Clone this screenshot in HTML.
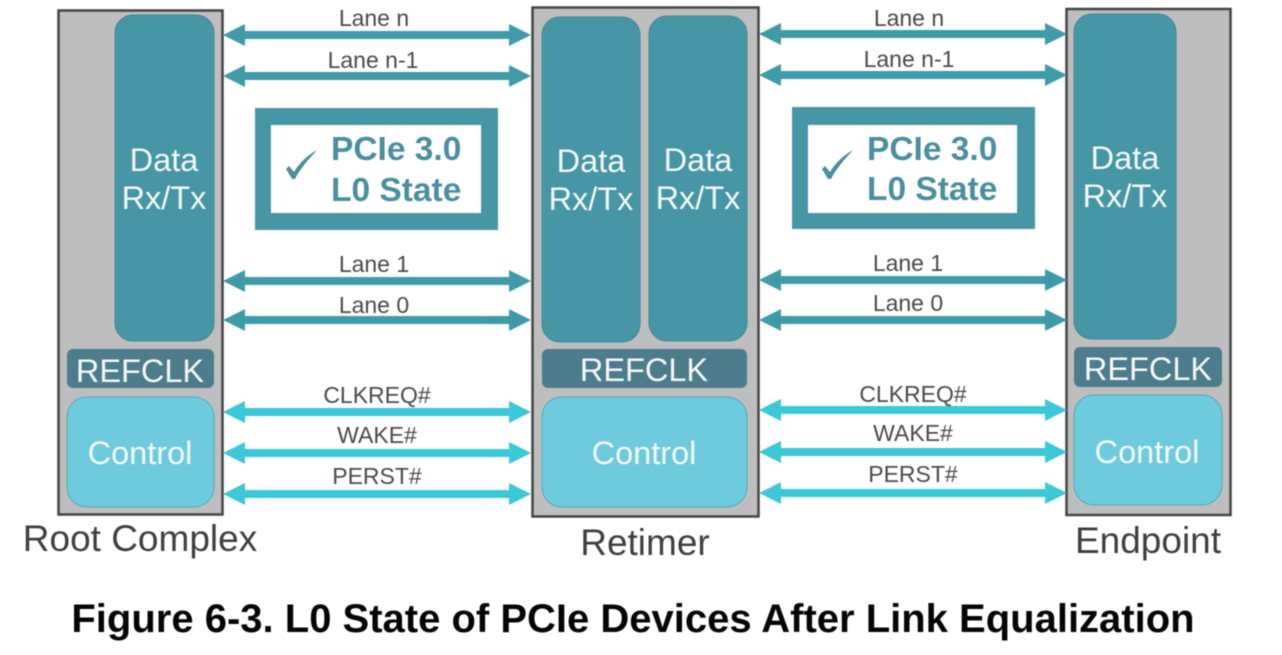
<!DOCTYPE html>
<html><head><meta charset="utf-8"><style>
html,body{margin:0;padding:0;background:#fff;width:1282px;height:655px;overflow:hidden}
svg{display:block;filter:blur(.55px)}
text{font-family:"Liberation Sans",sans-serif}
</style></head><body>
<svg width="1282" height="655" viewBox="0 0 1282 655" xmlns="http://www.w3.org/2000/svg">
<defs>
<g id="lan"><path d="M0 0 L22 -11 L22 -4 L286 -4 L286 -11 L308 0 L286 11 L286 4 L22 4 L22 11 Z" fill="#3f9ba8"/></g>
<g id="ctl"><path d="M0 0 L22 -11 L22 -4 L286 -4 L286 -11 L308 0 L286 11 L286 4 L22 4 L22 11 Z" fill="#3cc8d6"/></g>
</defs>
<!-- device boxes -->
<rect x="58.500" y="10.500" width="164" height="504" fill="#bebebe" stroke="#454545" stroke-width="2.500"/>
<rect x="532.500" y="7.500" width="226" height="509" fill="#bebebe" stroke="#454545" stroke-width="2.500"/>
<rect x="1066.500" y="9" width="164" height="506" fill="#bebebe" stroke="#454545" stroke-width="2.500"/>
<!-- data blocks -->
<rect x="115" y="15" width="99" height="326" rx="18" fill="#4796a5" stroke="#3e8795"/>
<rect x="542" y="17" width="98" height="325" rx="18" fill="#4796a5" stroke="#3e8795"/>
<rect x="649" y="16" width="98" height="325" rx="18" fill="#4796a5" stroke="#3e8795"/>
<rect x="1074" y="14" width="102" height="325" rx="18" fill="#4796a5" stroke="#3e8795"/>
<!-- refclk -->
<rect x="67" y="349" width="147" height="39" rx="6" fill="#4d7d8d"/>
<rect x="542" y="349" width="205" height="39" rx="6" fill="#4d7d8d"/>
<rect x="1074" y="347" width="148" height="40" rx="6" fill="#4d7d8d"/>
<!-- control -->
<rect x="67" y="397" width="147" height="110" rx="20" fill="#6ecbdd" stroke="#52a9b8"/>
<rect x="542" y="397" width="205" height="110" rx="20" fill="#6ecbdd" stroke="#52a9b8"/>
<rect x="1074" y="395" width="148" height="110" rx="20" fill="#6ecbdd" stroke="#52a9b8"/>
<!-- block labels -->
<g fill="#f4f8f9" font-size="32.500" text-anchor="middle">
<text x="164" y="171">Data</text><text x="164" y="209">Rx/Tx</text>
<text x="591" y="172">Data</text><text x="591" y="210">Rx/Tx</text>
<text x="698" y="171">Data</text><text x="698" y="209">Rx/Tx</text>
<text x="1125" y="169">Data</text><text x="1125" y="207">Rx/Tx</text>
<text x="140" y="382">REFCLK</text><text x="644" y="381">REFCLK</text><text x="1148" y="380">REFCLK</text>
<text x="140" y="464">Control</text><text x="644" y="464">Control</text><text x="1147" y="463">Control</text>
</g>
<!-- arrows left -->
<use href="#lan" x="223" y="35"/><use href="#lan" x="223" y="76"/><use href="#lan" x="223" y="281"/><use href="#lan" x="223" y="320"/>
<use href="#ctl" x="223" y="412"/><use href="#ctl" x="223" y="453"/><use href="#ctl" x="223" y="494"/>
<!-- arrows right -->
<use href="#lan" x="759" y="34"/><use href="#lan" x="759" y="75"/><use href="#lan" x="759" y="280"/><use href="#lan" x="759" y="320"/>
<use href="#ctl" x="759" y="410"/><use href="#ctl" x="759" y="452"/><use href="#ctl" x="759" y="493"/>
<!-- arrow labels -->
<g fill="#4a4a4a" font-size="23" text-anchor="middle">
<text x="374" y="26">Lane n</text><text x="373" y="68">Lane n-1</text><text x="374" y="272">Lane 1</text><text x="374" y="313">Lane 0</text>
<text x="377" y="403">CLKREQ#</text><text x="377" y="443">WAKE#</text><text x="377" y="484">PERST#</text>
<text x="909" y="26">Lane n</text><text x="909" y="67">Lane n-1</text><text x="908" y="271">Lane 1</text><text x="908" y="311">Lane 0</text>
<text x="913" y="402">CLKREQ#</text><text x="913" y="441">WAKE#</text><text x="913" y="482">PERST#</text>
</g>
<!-- state boxes -->
<rect x="255" y="108" width="243" height="122" fill="#4796a5"/>
<rect x="271" y="125" width="210" height="88" fill="#fff"/>
<rect x="792" y="107" width="243" height="122" fill="#4796a5"/>
<rect x="808" y="125" width="209" height="88" fill="#fff"/>
<g fill="#4a8f9e" font-size="33.500" font-weight="bold">
<text x="331" y="160">PCIe 3.0</text><text x="331" y="201">L0 State</text>
<text x="867" y="160">PCIe 3.0</text><text x="867" y="200">L0 State</text>
</g>
<path d="M286 169 L289 166 L294 172 C299 163 308 155 317 150 C308 160 300 169 295 179 L292 179 Z" fill="#4a8f9e"/>
<path d="M822 169 L825 166 L830 172 C835 163 844 155 853 150 C844 160 836 169 831 179 L828 179 Z" fill="#4a8f9e"/>
<!-- device names -->
<g fill="#3f3f3f" font-size="37" text-anchor="middle">
<text x="140" y="551">Root Complex</text><text x="645" y="555">Retimer</text><text x="1148" y="553">Endpoint</text>
</g>
<text x="633" y="632" fill="#050505" font-size="40" font-weight="bold" text-anchor="middle">Figure 6-3. L0 State of PCIe Devices After Link Equalization</text>
</svg>
</body></html>
